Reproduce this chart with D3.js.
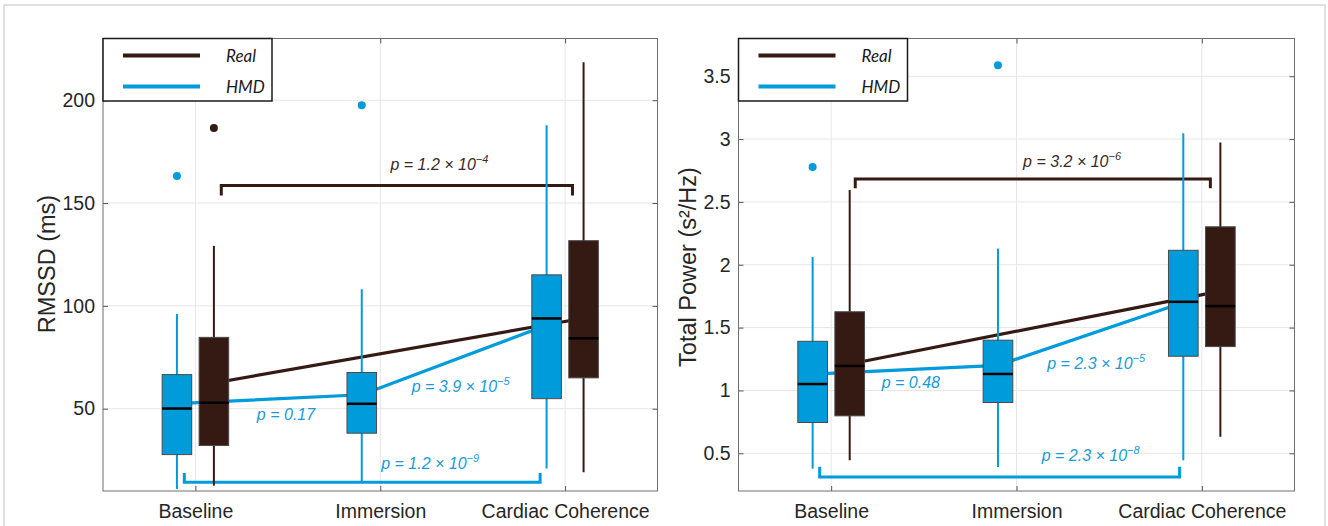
<!DOCTYPE html>
<html><head><meta charset="utf-8">
<script src="https://cdn.jsdelivr.net/npm/d3@7"></script>
<style>body{margin:0;background:#fff}svg{display:block}</style>
</head><body><svg id="c" width="1328" height="526"></svg>
<script>
// ---------------- DATA ----------------
const categories = ["Baseline", "Immersion", "Cardiac Coherence"];
const seriesNames = ["Real", "HMD"];

// box stats per category: [whiskerLow, q1, median, q3, whiskerHigh]; null = not measured
const rmssdHmdBoxes  = [[11, 27.7, 50.1, 66.6, 96.1], [14.2, 38.1, 52.4, 67.6, 108.1], [21, 54.9, 93.9, 115.1, 187.8]];
const rmssdRealBoxes = [[12.6, 32.1, 52.9, 84.7, 129.2], null, [19.1, 65, 84.2, 131.7, 218.4]];
const rmssdHmdOutliers  = [[163.1], [197.6], []];
const rmssdRealOutliers = [[186.5], [], []];
const rmssdHmdMeans  = [52.5, 56.8, 90.6];
const rmssdRealMeans = [62.5, null, 94];
const rmssdTicks = [50, 100, 150, 200];
const rmssdDomain = [10, 230];
// significance brackets: [series, fromX, toX, barValue, legValue] (x in category units)
const rmssdBrackets = [["Real", 1.14, 3.04, 158.5, 153.7], ["HMD", 0.94, 2.865, 14.2, 18.7]];
// p-value labels: [series, text, superscript, x (category units), y (value)]
const rmssdPLabels = [
  ["Real", "p = 1.2 × 10", "−4", 2.32, 166],
  ["HMD", "p = 1.2 × 10", "−9", 2.27, 20.6],
  ["HMD", "p = 0.17", "", 1.49, 44.4],
  ["HMD", "p = 3.9 × 10", "−5", 2.435, 58]
];

const tpHmdBoxes  = [[0.378, 0.745, 1.051, 1.391, 2.062], [0.391, 0.904, 1.131, 1.40, 2.129], [0.444, 1.272, 1.705, 2.115, 3.047]];
const tpRealBoxes = [[0.444, 0.798, 1.195, 1.626, 2.594], null, [0.631, 1.349, 1.671, 2.302, 2.973]];
const tpHmdOutliers  = [[2.778], [3.587], []];
const tpRealOutliers = [[], [], []];
const tpHmdMeans  = [1.13, 1.20, 1.70];
const tpRealMeans = [1.21, null, 1.79];
const tpTicks = [0.5, 1, 1.5, 2, 2.5, 3, 3.5];
const tpDomain = [0.2, 3.8];
const tpBrackets = [["Real", 1.13, 3.046, 2.682, 2.608], ["HMD", 0.938, 2.88, 0.311, 0.392]];
const tpPLabels = [
  ["Real", "p = 3.2 × 10", "−6", 2.30, 2.779],
  ["HMD", "p = 2.3 × 10", "−8", 2.40, 0.44],
  ["HMD", "p = 0.48", "", 1.43, 1.019],
  ["HMD", "p = 2.3 × 10", "−5", 2.43, 1.169]
];

// ---------------- STYLE ----------------
const COLORS = { Real: "#351a13", HMD: "#009bdb" };
const OFFSET = { Real: 0.1, HMD: -0.1 };
const HALF_W = 0.08;
const svg = d3.select("#c");
svg.append("rect").attr("width", 1328).attr("height", 526).attr("fill", "#fff");
svg.append("rect").attr("x", 4).attr("y", 5).attr("width", 1321).attr("height", 540)
  .attr("fill", "none").attr("stroke", "#d6d6d6").attr("stroke-width", 1.5);

function drawPanel(cfg) {
  const g = svg.append("g");
  const x = d3.scaleLinear().domain([0.5, 3.5]).range([cfg.left, cfg.right]);
  const y = d3.scaleLinear().domain(cfg.domain).range([cfg.bottom, cfg.top]);

  // grid
  g.append("g").selectAll("line.h").data(cfg.ticks).join("line")
    .attr("x1", cfg.left).attr("x2", cfg.right).attr("y1", d => y(d)).attr("y2", d => y(d))
    .attr("stroke", "#e6e6e6").attr("stroke-width", 1);
  g.append("g").selectAll("line.v").data([1, 2, 3]).join("line")
    .attr("y1", cfg.top).attr("y2", cfg.bottom).attr("x1", d => x(d)).attr("x2", d => x(d))
    .attr("stroke", "#e6e6e6").attr("stroke-width", 1);

  // axes
  const ya = g.append("g").attr("transform", `translate(${cfg.left},0)`)
    .call(d3.axisLeft(y).tickValues(cfg.ticks).tickSizeInner(-5).tickSizeOuter(0).tickPadding(8)
      .tickFormat(d3.format("~g")));
  ya.select(".domain").remove();
  ya.selectAll("line").attr("stroke", "#555");
  ya.selectAll("text").attr("font-family", "Liberation Sans, Arial, sans-serif").attr("font-size", 19.5).attr("fill", "#262626");
  const yr = g.append("g").attr("transform", `translate(${cfg.right},0)`)
    .call(d3.axisRight(y).tickValues(cfg.ticks).tickSizeInner(-5).tickSizeOuter(0).tickFormat(""));
  yr.select(".domain").remove();
  yr.selectAll("line").attr("stroke", "#555");
  const xa = g.append("g").attr("transform", `translate(0,${cfg.bottom})`)
    .call(d3.axisBottom(x).tickValues([1, 2, 3]).tickSizeInner(-5).tickSizeOuter(0).tickPadding(13)
      .tickFormat(d => categories[d - 1]));
  xa.select(".domain").remove();
  xa.selectAll("line").attr("stroke", "#555");
  xa.selectAll("text").attr("font-family", "Liberation Sans, Arial, sans-serif").attr("font-size", 19.5).attr("fill", "#262626");
  const xt = g.append("g").attr("transform", `translate(0,${cfg.top})`)
    .call(d3.axisTop(x).tickValues([1, 2, 3]).tickSizeInner(-5).tickSizeOuter(0).tickFormat(""));
  xt.select(".domain").remove();
  xt.selectAll("line").attr("stroke", "#555");

  // y title
  g.append("text").attr("transform", `translate(${cfg.titleX},${cfg.titleY}) rotate(-90)`)
    .attr("text-anchor", "middle").attr("dominant-baseline", "central")
    .attr("font-family", "Liberation Sans, Arial, sans-serif").attr("font-size", 23.5).attr("fill", "#262626")
    .text(cfg.title);

  // brackets
  cfg.brackets.forEach(([s, x0, x1, yb, yl]) => {
    const p = d3.path();
    p.moveTo(x(x0), y(yl)); p.lineTo(x(x0), y(yb)); p.lineTo(x(x1), y(yb)); p.lineTo(x(x1), y(yl));
    g.append("path").attr("d", p.toString()).attr("fill", "none")
      .attr("stroke", COLORS[s]).attr("stroke-width", 3);
  });

  // mean lines
  const line = d3.line().defined(d => d.v != null).x(d => x(d.i + 1 + OFFSET[d.s])).y(d => y(d.v));
  [["Real", cfg.realMeans], ["HMD", cfg.hmdMeans]].forEach(([s, arr]) => {
    const pts = arr.map((v, i) => ({ v, i, s })).filter(d => d.v != null);
    g.append("path").attr("d", line(pts)).attr("fill", "none")
      .attr("stroke", COLORS[s]).attr("stroke-width", 3.2);
  });

  // boxes
  [["HMD", cfg.hmdBoxes, cfg.hmdOut], ["Real", cfg.realBoxes, cfg.realOut]].forEach(([s, boxes, outs]) => {
    boxes.forEach((b, i) => {
      if (!b) return;
      const cx = i + 1 + OFFSET[s];
      g.append("line").attr("x1", x(cx)).attr("x2", x(cx)).attr("y1", y(b[0])).attr("y2", y(b[4]))
        .attr("stroke", COLORS[s]).attr("stroke-width", 2);
      g.append("rect").attr("x", x(cx - HALF_W)).attr("width", x(cx + HALF_W) - x(cx - HALF_W))
        .attr("y", y(b[3])).attr("height", y(b[1]) - y(b[3]))
        .attr("fill", COLORS[s]).attr("stroke", "#4a4a4a").attr("stroke-width", 1);
      g.append("line").attr("x1", x(cx - HALF_W)).attr("x2", x(cx + HALF_W))
        .attr("y1", y(b[2])).attr("y2", y(b[2])).attr("stroke", "#000").attr("stroke-width", 2.5);
    });
    outs.forEach((arr, i) => arr.forEach(v => {
      g.append("circle").attr("cx", x(i + 1 + OFFSET[s])).attr("cy", y(v)).attr("r", 4)
        .attr("fill", COLORS[s]);
    }));
  });

  // p labels
  cfg.pLabels.forEach(([s, t, sup, lx, ly]) => {
    const tx = g.append("text").attr("x", x(lx)).attr("y", y(ly)).attr("text-anchor", "middle")
      .attr("font-family", "Liberation Sans, Arial, sans-serif").attr("font-style", "italic")
      .attr("font-size", 16).attr("fill", s === "Real" ? "#3a2a25" : "#1a9ad8");
    tx.append("tspan").text(t);
    if (sup) tx.append("tspan").attr("font-size", 11).attr("dy", -7).text(sup);
  });

  // plot frame
  g.append("rect").attr("x", cfg.left).attr("y", cfg.top).attr("width", cfg.right - cfg.left)
    .attr("height", cfg.bottom - cfg.top).attr("fill", "none").attr("stroke", "#6e6e6e").attr("stroke-width", 1);

  // legend
  const lg = g.append("g").attr("transform", `translate(${cfg.left},${cfg.top})`);
  lg.append("rect").attr("x", 0).attr("y", 0).attr("width", 169).attr("height", 62.5)
    .attr("fill", "#fff").attr("stroke", "#1a1a1a").attr("stroke-width", 1.5);
  seriesNames.forEach((s, k) => {
    const yy = 17 + k * 31;
    lg.append("line").attr("x1", 20).attr("x2", 97).attr("y1", yy).attr("y2", yy)
      .attr("stroke", COLORS[s]).attr("stroke-width", 4);
    lg.append("text").attr("x", 123).attr("y", yy).attr("dominant-baseline", "central")
      .attr("font-family", "Lato, sans-serif").attr("font-style", "italic").attr("font-size", 17)
      .attr("fill", "#1a1a1a").text(s);
  });
}

drawPanel({
  left: 103, right: 657.5, top: 38.5, bottom: 491, domain: rmssdDomain, ticks: rmssdTicks,
  title: "RMSSD (ms)", titleX: 47, titleY: 264,
  hmdBoxes: rmssdHmdBoxes, realBoxes: rmssdRealBoxes, hmdOut: rmssdHmdOutliers, realOut: rmssdRealOutliers,
  hmdMeans: rmssdHmdMeans, realMeans: rmssdRealMeans, brackets: rmssdBrackets, pLabels: rmssdPLabels
});
drawPanel({
  left: 738.5, right: 1294.5, top: 38.5, bottom: 491, domain: tpDomain, ticks: tpTicks,
  title: "Total Power (s²/Hz)", titleX: 688, titleY: 267,
  hmdBoxes: tpHmdBoxes, realBoxes: tpRealBoxes, hmdOut: tpHmdOutliers, realOut: tpRealOutliers,
  hmdMeans: tpHmdMeans, realMeans: tpRealMeans, brackets: tpBrackets, pLabels: tpPLabels
});
</script></body></html>
